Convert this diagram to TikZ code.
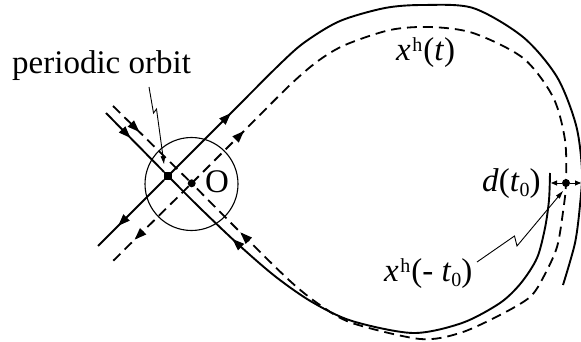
\documentclass[tikz,border=0pt]{standalone}
\usepackage{fontspec}
\setmainfont{Liberation Serif}
\usetikzlibrary{arrows.meta,decorations.markings}
\newcommand{\supH}{\kern1.5pt\raisebox{9pt}{\fontsize{20}{20}\selectfont h}\kern1pt}
\newcommand{\subZero}{\raisebox{-5.5pt}{\fontsize{20}{20}\selectfont 0}}
\tikzset{
  curve/.style={line width=1.9pt},
  dashcurve/.style={line width=1.8pt, dash pattern=on 10pt off 6pt},
  leader/.style={line width=0.9pt, -{Triangle[length=8pt,width=4.5pt]}},
  dtip/.style={line width=0.9pt, -{Triangle[length=6pt,width=5pt]}},
  lbl/.style={inner sep=0pt, font=\fontsize{33}{33}\selectfont},
  rdot/.style={circle, fill=black, inner sep=0pt, minimum size=8pt},
  sqdot/.style={rectangle, fill=black, inner sep=0pt, minimum size=7.5pt},
  tipA/.style={decoration={markings, mark=at position #1 with {\arrow{Triangle[length=12pt,width=8.5pt]}}}, postaction={decorate}},
}
\begin{document}
\begin{tikzpicture}[x=1pt,y=-1pt]
\useasboundingbox (0,0) rectangle (581,342);

% fixed points
\node[sqdot] (P) at (168,176) {};
\node[rdot] (O) at (191.7,183.3) {};
\node[draw, circle, line width=1.1pt, minimum size=93pt, inner sep=0pt] (C) at (191.5,184) {};
\node[rdot] (D) at (566,183) {};

% free ends
\coordinate (sIn) at (106,113);
\coordinate (sOut) at (98,246);
\coordinate (dIn) at (113,106);
\coordinate (dOut) at (113,261);

% stable/unstable straight branches (solid)
\draw[curve, tipA=35pt] (sIn) -- (P);
\draw[curve, tipA=65pt] (P) -- (sOut);
% dashed straight branches
\draw[dashcurve, tipA=37pt] (dIn) -- (O);
\draw[dashcurve, tipA=76pt] (O) -- (dOut);

% outer solid (unstable manifold)
\begin{scope}
\clip (0,0) rectangle (581,342);
\draw[curve, tipA=89pt] plot[smooth] coordinates {(168,176) (230,114) (280,64) (305,42) (340,21) (385,8) (423,5) (473,8) (523,37) (557,77) (576,125) (582,170) (580,205) (575,243) (563,285)};
\end{scope}

% inner solid (stable manifold), drawn from its free end to P
\draw[curve, tipA=-90pt] plot[smooth] coordinates {(550,173) (549,200) (545,228) (537,258) (521,283) (500,303) (462,323) (413,333) (352,321) (312,302) (276,277) (240,246) (200,208) (168,176)};

% homoclinic orbit (dashed loop)
\draw[dashcurve, decoration={markings, mark=at position 74pt with {\arrow{Triangle[length=12pt,width=8.5pt]}}, mark=at position -69pt with {\arrow{Triangle[length=12pt,width=8.5pt]}}}, postaction={decorate}]
  plot[smooth] coordinates {(191.7,183.3) (240,135) (290,85) (318,61) (345,45) (390,30) (430,27) (473,33) (523,58) (553,97) (565,140) (566,183) (563,212) (557,247) (544,276) (530,297) (500,315) (460,333) (420,339) (352,323) (320,305) (290,281) (240,232) (191.7,183.3)};

% labels
\node[lbl, anchor=base west] (tPO) at (12,74) {periodic orbit};
\node[lbl, anchor=base west] (tO) at (205,193) {O};
\node[lbl, anchor=base west] (tXt) at (396,61) {\textit{x}\supH(\textit{t})};
\node[lbl, anchor=base west] (tD) at (482,191) {\textit{d}(\textit{t}\subZero)};
\node[lbl, anchor=base west] (tXm) at (384,281) {\textit{x}\supH(- \textit{t}\subZero)};

% leaders
\coordinate (l1a) at (149,87);
\coordinate (l1b) at (153.5,113);
\coordinate (l1c) at (156.5,109);
\coordinate (l1d) at (164,164);
\draw[leader] (l1a) -- (l1b) -- (l1c) -- (l1d);
\coordinate (l2a) at (477,262);
\coordinate (l2b) at (514.5,236);
\coordinate (l2c) at (517,246);
\coordinate (l2d) at (563,191);
\draw[leader] (l2a) -- (l2b) -- (l2c) -- (l2d);

% d(t0) arrows
\coordinate (dL) at (551,183);
\coordinate (dR) at (581,183);
\draw[dtip] (D) -- (dL);
\draw[dtip] (D) -- (dR);
\end{tikzpicture}
\end{document}
